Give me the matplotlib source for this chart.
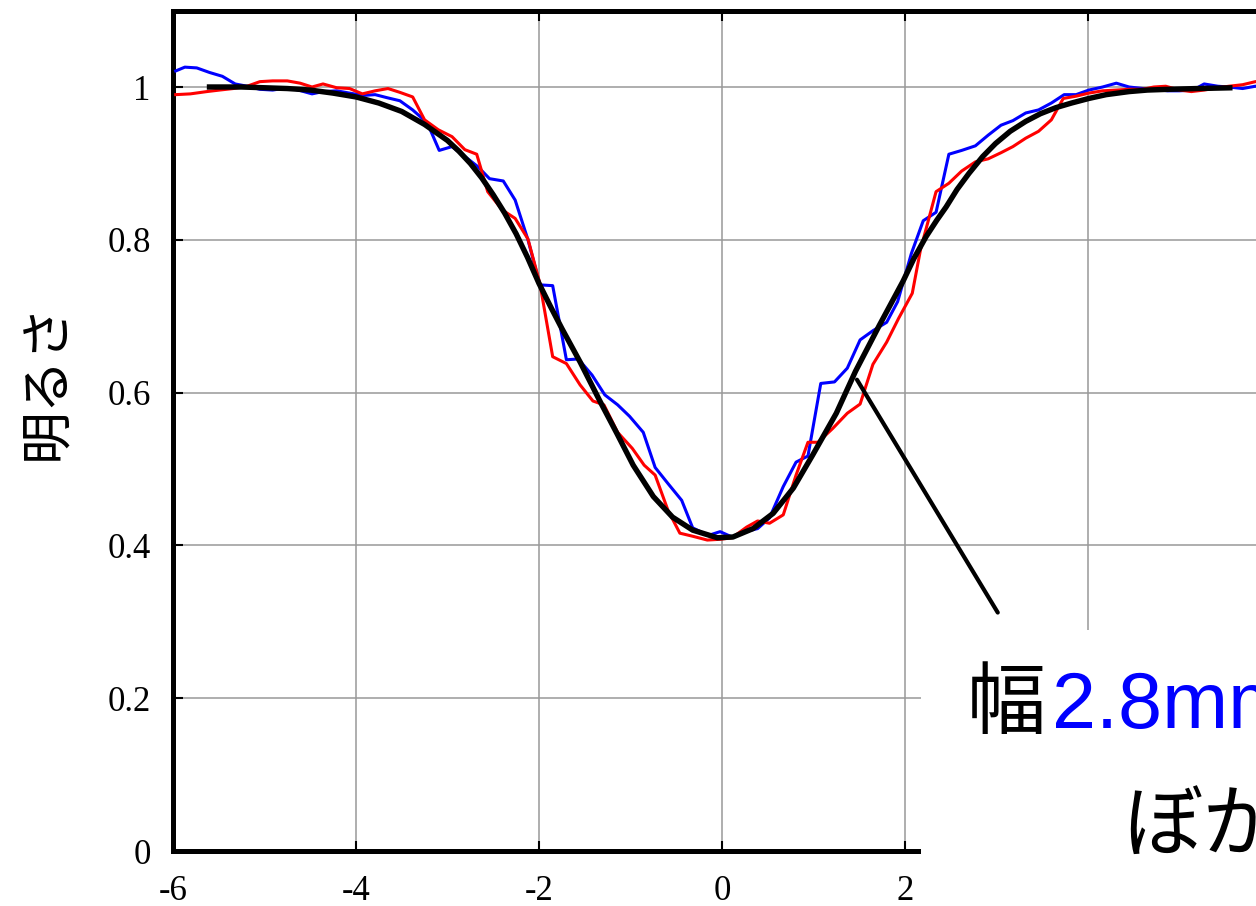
import matplotlib
matplotlib.use("Agg")
import matplotlib.pyplot as plt
from matplotlib.patches import Rectangle

# 測定データ (位置 mm, 明るさ)
blue_x = [-5.97, -5.87, -5.74, -5.60, -5.46, -5.32, -5.19, -5.05, -4.91, -4.75,
          -4.63, -4.48, -4.36, -4.21, -4.07, -3.92, -3.79, -3.66, -3.52, -3.38,
          -3.22, -3.09, -2.95, -2.81, -2.67, -2.54, -2.39, -2.26, -2.12, -1.99,
          -1.85, -1.70, -1.57, -1.42, -1.28, -1.14, -1.01, -0.86, -0.73, -0.59,
          -0.44, -0.32, -0.15, -0.02, 0.11, 0.25, 0.39, 0.52, 0.67, 0.81,
          0.94, 1.08, 1.23, 1.37, 1.51, 1.65, 1.80, 1.92, 2.07, 2.20,
          2.34, 2.48, 2.62, 2.77, 2.91, 3.05, 3.18, 3.32, 3.46, 3.60,
          3.74, 3.87, 4.01, 4.16, 4.31, 4.45, 4.60, 4.74, 4.87, 5.00,
          5.15, 5.27, 5.42, 5.54, 5.69, 5.83, 5.96]
blue_y = [1.021, 1.026, 1.025, 1.019, 1.014, 1.004, 1.001, 0.997, 0.996, 0.999,
          0.996, 0.991, 0.994, 0.995, 0.992, 0.989, 0.990, 0.986, 0.982, 0.970,
          0.953, 0.917, 0.922, 0.909, 0.896, 0.880, 0.877, 0.852, 0.800, 0.741,
          0.740, 0.643, 0.644, 0.623, 0.597, 0.584, 0.569, 0.548, 0.502, 0.481,
          0.459, 0.423, 0.413, 0.418, 0.411, 0.418, 0.422, 0.436, 0.477, 0.509,
          0.517, 0.612, 0.614, 0.632, 0.669, 0.681, 0.692, 0.719, 0.782, 0.825,
          0.836, 0.912, 0.917, 0.923, 0.937, 0.950, 0.956, 0.966, 0.970, 0.979,
          0.990, 0.990, 0.996, 1.000, 1.005, 1.000, 0.998, 0.997, 0.995, 0.995,
          0.996, 1.004, 1.001, 1.000, 0.998, 1.001, 1.000]

red_x = [-5.97, -5.81, -5.63, -5.49, -5.34, -5.19, -5.05, -4.91, -4.75, -4.61,
         -4.48, -4.36, -4.21, -4.07, -3.93, -3.79, -3.65, -3.52, -3.38, -3.25,
         -3.10, -2.95, -2.81, -2.68, -2.56, -2.40, -2.26, -2.12, -1.99, -1.85,
         -1.70, -1.55, -1.41, -1.29, -1.14, -0.98, -0.85, -0.73, -0.59, -0.46,
         -0.32, -0.16, -0.02, 0.11, 0.27, 0.39, 0.52, 0.67, 0.81, 0.94,
         1.05, 1.21, 1.37, 1.51, 1.65, 1.80, 1.93, 2.08, 2.17, 2.34,
         2.48, 2.62, 2.77, 2.91, 3.05, 3.18, 3.32, 3.46, 3.60, 3.73,
         3.87, 4.01, 4.16, 4.31, 4.45, 4.60, 4.72, 4.85, 5.00, 5.13,
         5.27, 5.42, 5.54, 5.69, 5.83, 5.96]
red_y = [0.990, 0.991, 0.994, 0.996, 0.998, 1.001, 1.007, 1.008, 1.008, 1.005,
         1.000, 1.004, 0.999, 0.998, 0.991, 0.995, 0.998, 0.993, 0.987, 0.957,
         0.944, 0.935, 0.918, 0.912, 0.863, 0.839, 0.828, 0.801, 0.743, 0.647,
         0.638, 0.610, 0.589, 0.584, 0.548, 0.527, 0.505, 0.492, 0.446, 0.416,
         0.412, 0.407, 0.408, 0.410, 0.424, 0.432, 0.429, 0.440, 0.492, 0.535,
         0.535, 0.553, 0.573, 0.585, 0.637, 0.666, 0.697, 0.730, 0.787, 0.863,
         0.874, 0.890, 0.902, 0.906, 0.914, 0.922, 0.933, 0.942, 0.957, 0.985,
         0.988, 0.992, 0.995, 0.996, 0.997, 0.997, 1.000, 1.001, 0.996, 0.994,
         0.996, 0.999, 1.001, 1.003, 1.007, 1.008]

# フィット曲線
fit_x = [-5.63, -5.25, -5.0, -4.75, -4.5, -4.25, -4.0, -3.75, -3.5, -3.25,
         -3.0, -2.875, -2.75, -2.625, -2.5, -2.375, -2.25, -2.125, -2.0, -1.875,
         -1.75, -1.55, -1.33, -1.15, -0.97, -0.75, -0.54, -0.32, -0.05, 0.12,
         0.34, 0.56, 0.78, 0.99, 1.25, 1.46, 1.72, 1.98, 2.1, 2.23,
         2.35, 2.45, 2.57, 2.7, 2.85, 2.99, 3.15, 3.32, 3.48, 3.65,
         3.82, 4.01, 4.2, 4.45, 4.65, 4.89, 5.2, 5.58]
fit_y = [1.000, 1.000, 0.999, 0.998, 0.996, 0.992, 0.987, 0.979, 0.968, 0.951,
         0.930, 0.916, 0.900, 0.881, 0.859, 0.835, 0.808, 0.777, 0.743, 0.713,
         0.684, 0.640, 0.588, 0.547, 0.505, 0.464, 0.437, 0.420, 0.410, 0.411,
         0.422, 0.442, 0.475, 0.518, 0.573, 0.628, 0.688, 0.746, 0.776, 0.804,
         0.826, 0.843, 0.866, 0.887, 0.909, 0.926, 0.942, 0.955, 0.965, 0.973,
         0.979, 0.985, 0.990, 0.994, 0.996, 0.997, 0.998, 0.999]

x_ticks = [-6, -4, -2, 0, 2, 4, 6]
x_labels = ["-6", "-4", "-2", "0", "2", "4", "6"]
y_ticks = [0, 0.2, 0.4, 0.6, 0.8, 1.0]
y_labels = ["0", "0.2", "0.4", "0.6", "0.8", "1"]

jp = ["Noto Sans CJK JP", "DejaVu Sans"]

fig = plt.figure(figsize=(12.56, 9.06), dpi=100)
ax = fig.add_axes([0.1377, 0.0607, 0.8742, 0.9276])

ax.plot(blue_x, blue_y, color="#0000ff", lw=2.2, zorder=3)
ax.plot(red_x, red_y, color="#ff0000", lw=2.2, zorder=3)
ax.plot(fit_x, fit_y, color="black", lw=3.9, zorder=4,
        solid_capstyle="butt", solid_joinstyle="round")

ax.annotate("", xy=(1.46, 0.62), xytext=(3.03, 0.309),
            arrowprops=dict(arrowstyle="-", lw=3, color="black"), zorder=5)

ax.set_xlim(-6, 6)
ax.set_ylim(0, 1.1)
ax.set_xticks(x_ticks)
ax.set_xticklabels(x_labels, family="Liberation Serif", fontsize=25)
ax.set_yticks(y_ticks)
ax.set_yticklabels(y_labels, family="Liberation Serif", fontsize=25)
ax.tick_params(axis="both", direction="in", length=7, width=1.5,
               top=True, right=True)
ax.tick_params(axis="x", pad=17)
ax.tick_params(axis="y", pad=16)
ax.grid(True, color="#999999", lw=1.1)
ax.set_axisbelow(True)
for s in ax.spines.values():
    s.set_linewidth(3.6)

# 右下の注釈ボックス
fig.patches.append(Rectangle((921 / 1256, 0), 0.3, (906 - 630) / 906,
                             transform=fig.transFigure, facecolor="white",
                             edgecolor="none", zorder=10))
fig.text(967 / 1256, (906 - 728) / 906, "幅", family=jp, fontsize=57,
         color="black", va="baseline", ha="left", zorder=11)
fig.text(1052 / 1256, (906 - 728) / 906, "2.8mm",
         family=["Liberation Sans", "DejaVu Sans"], fontsize=57,
         color="#0000ff", va="baseline", ha="left", zorder=11)
fig.text(1123 / 1256, (906 - 850) / 906, "ぼかし", family=jp, fontsize=57,
         color="black", va="baseline", ha="left", zorder=11)

fig.text(47 / 1256, 1 - 381 / 906, "明るさ", family=jp, fontsize=38,
         rotation=90, ha="center", va="center")

fig.savefig("out.png", dpi=100)
